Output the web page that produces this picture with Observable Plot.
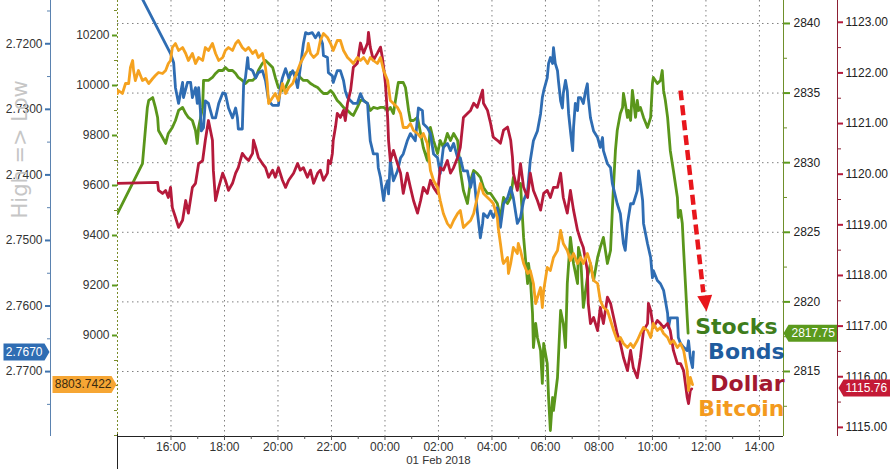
<!DOCTYPE html>
<html><head><meta charset="utf-8">
<script src="https://cdn.jsdelivr.net/npm/d3@7"></script>
<script src="https://cdn.jsdelivr.net/npm/@observablehq/plot@0.6"></script>
<style>
html,body{margin:0;padding:0;background:#fff;}
#chart{position:relative;width:890px;height:469px;overflow:hidden;background:#fff;}
#chart svg{position:absolute;left:0;top:0;}
</style></head><body><div id="chart"></div>
<script>
// time: minutes since 31 Jan 2018 14:00 (UTC)
const T0 = Date.UTC(2018, 0, 31, 14, 0);
const X_END_MIN = 1494;

// [minutes, 10y yield]
const bonds = [[0,2.7058],[119,2.7215],[126,2.7229],[130,2.7267],[137,2.7291],[146,2.7259],[148,2.7282],[157,2.7259],[164,2.7259],[168,2.7282],
[175,2.7267],[179,2.7291],[182,2.7267],[186,2.7302],[188,2.7333],[193,2.7328],[197,2.7287],[204,2.7291],[213,2.7313],[220,2.7313],
[227,2.7291],[236,2.7275],[242,2.7276],[249,2.7298],[258,2.7313],[265,2.7298],[269,2.7313],[271,2.7330],[280,2.7330],[283,2.7261],
[287,2.7252],[292,2.7221],[294,2.7237],[303,2.7241],[310,2.7252],[316,2.7244],[325,2.7241],[332,2.7256],[339,2.7287],[348,2.7294],
[361,2.7294],[366,2.7264],[370,2.7252],[377,2.7238],[384,2.7252],[393,2.7241],[399,2.7252],[404,2.7267],[410,2.7237],[417,2.7200],
[422,2.7183],[428,2.7185],[437,2.7183],[444,2.7191],[451,2.7183],[460,2.7200],[462,2.7218],[471,2.7221],[473,2.7244],[482,2.7249],
[484,2.7259],[493,2.7241],[500,2.7241],[507,2.7256],[511,2.7272],[516,2.7282],[523,2.7287],[529,2.7291],[538,2.7291],[545,2.7276],
[552,2.7287],[561,2.7291],[563,2.7313],[567,2.7348],[574,2.7368],[583,2.7368],[585,2.7389],[590,2.7404],[597,2.7439],[601,2.7419],
[606,2.7409],[608,2.7429],[612,2.7378],[619,2.7409],[628,2.7394],[635,2.7374],[641,2.7368],[650,2.7348],[657,2.7337],[668,2.7348],
[675,2.7298],[684,2.7302],[686,2.7322],[695,2.7328],[702,2.7337],[709,2.7368],[718,2.7374],[724,2.7398],[731,2.7358],[740,2.7352],
[747,2.7363],[754,2.7352],[763,2.7374],[769,2.7374],[776,2.7394],[785,2.7394],[792,2.7419],[799,2.7398],[807,2.7455],[814,2.7496],
[819,2.7474],[821,2.7459],[830,2.7465],[837,2.7455],[843,2.7465],[852,2.7450],[859,2.7480],[866,2.7444],[875,2.7435],[882,2.7419],
[888,2.7435],[897,2.7474],[904,2.7465],[911,2.7439],[920,2.7424],[926,2.7378],[933,2.7348],[942,2.7333],[949,2.7307],[953,2.7282],
[956,2.7272],[964,2.7252],[967,2.7230],[971,2.7221],[976,2.7230],[978,2.7206],[982,2.7230],[987,2.7241],[989,2.7256],[994,2.7287],
[998,2.7298],[1000,2.7276],[1005,2.7256],[1009,2.7272],[1012,2.7307],[1016,2.7333],[1021,2.7363],[1023,2.7328],[1027,2.7291],[1032,2.7302],
[1034,2.7282],[1039,2.7282],[1045,2.7291],[1050,2.7272],[1054,2.7261],[1056,2.7282],[1061,2.7313],[1068,2.7333],[1077,2.7343],[1083,2.7358],
[1088,2.7343],[1090,2.7363],[1099,2.7383],[1106,2.7389],[1110,2.7413],[1121,2.7444],[1128,2.7459],[1135,2.7505],[1139,2.7515],[1144,2.7474],
[1151,2.7444],[1157,2.7444],[1166,2.7424],[1169,2.7394],[1173,2.7413],[1178,2.7439],[1180,2.7474],[1189,2.7505],[1196,2.7526],[1200,2.7557],
[1202,2.7546],[1211,2.7561],[1218,2.7566],[1225,2.7576],[1234,2.7611],[1236,2.7633],[1240,2.7618],[1256,2.7618],[1258,2.7648],[1263,2.7657],
[1270,2.7663],[1278,2.7668],[1281,2.7653],[1285,2.7679],[1290,2.7694],[1292,2.7670]];

// [minutes, Bitcoin price]
const bitcoin = [[0,9968],[2,9980],[11,9968],[18,10008],[25,10008],[29,10072],[34,10100],[36,10060],[40,10020],[47,10060],
[56,10020],[63,10028],[70,10008],[79,10028],[85,10040],[92,10052],[101,10048],[108,10060],[114,10088],[119,10100],
[123,10152],[130,10168],[137,10140],[146,10152],[153,10128],[159,10100],[168,10128],[175,10088],[182,10112],[191,10100],
[197,10152],[204,10140],[213,10168],[220,10128],[227,10100],[236,10112],[242,10140],[249,10152],[258,10140],[265,10168],
[271,10180],[280,10152],[287,10140],[294,10152],[303,10128],[310,10140],[316,10112],[325,10128],[332,10072],[336,10008],
[339,9928],[348,9952],[354,9968],[361,9940],[370,10008],[377,9968],[384,9992],[393,10008],[404,10060],[410,10088],
[417,10112],[426,10140],[428,10168],[433,10128],[440,10112],[449,10128],[455,10180],[462,10208],[471,10192],[478,10168],
[484,10140],[493,10180],[500,10180],[507,10140],[516,10112],[523,10100],[529,10088],[538,10112],[545,10100],[552,10112],
[561,10088],[567,10112],[574,10100],[583,10088],[590,10112],[597,10060],[606,10020],[612,9940],[619,9928],[628,9912],
[635,9888],[641,9832],[650,9832],[657,9848],[664,9820],[673,9808],[680,9792],[686,9808],[695,9768],[702,9660],
[709,9620],[718,9592],[724,9540],[731,9488],[740,9448],[747,9432],[754,9460],[763,9488],[769,9500],[776,9432],
[785,9448],[792,9460],[799,9488],[807,9552],[814,9608],[821,9568],[830,9552],[837,9540],[843,9528],[852,9472],
[854,9432],[859,9368],[864,9300],[866,9288],[875,9312],[877,9248],[882,9288],[888,9352],[897,9328],[899,9368],
[904,9340],[911,9288],[920,9248],[926,9260],[933,9208],[938,9128],[942,9152],[949,9192],[953,9112],[956,9180],
[964,9272],[971,9260],[978,9312],[987,9340],[994,9420],[1000,9368],[1009,9340],[1016,9300],[1023,9328],[1032,9288],
[1039,9312],[1045,9288],[1054,9328],[1061,9288],[1068,9220],[1077,9208],[1083,9140],[1090,9112],[1099,9100],[1106,9060],
[1113,9020],[1121,8980],[1128,8992],[1135,8968],[1144,8952],[1151,8968],[1157,8952],[1166,8980],[1173,9008],[1180,9032],
[1189,9020],[1196,8992],[1202,9048],[1211,9020],[1218,9032],[1225,9008],[1234,8992],[1240,8968],[1247,8980],[1256,8952],
[1263,8968],[1270,8940],[1278,8860],[1281,8780],[1285,8832],[1290,8803.7422]];

// [minutes, S&P 500 futures]
const stocks = [[0,2826.35],[56,2829.94],[63,2832.53],[67,2833.97],[70,2834.47],[79,2834.68],[85,2833.97],[90,2833.25],[92,2832.31],[101,2831.81],
[108,2831.38],[114,2832.10],[123,2832.53],[130,2833.03],[137,2833.75],[146,2833.97],[153,2833.53],[159,2833.25],[168,2833.03],[175,2832.31],
[179,2831.38],[182,2832.53],[191,2833.97],[193,2835.91],[197,2835.91],[204,2835.91],[213,2836.12],[220,2836.41],[227,2836.62],[236,2836.62],
[242,2836.84],[249,2836.62],[258,2836.62],[265,2836.41],[271,2836.12],[280,2835.91],[287,2835.69],[294,2835.91],[303,2835.91],[310,2836.12],
[316,2836.62],[325,2837.13],[332,2837.34],[339,2837.13],[348,2836.84],[354,2836.12],[361,2835.40],[370,2835.19],[377,2835.40],[384,2835.91],
[388,2836.48],[404,2836.41],[410,2836.12],[417,2835.91],[426,2835.91],[433,2835.69],[440,2835.55],[449,2835.40],[455,2835.19],[462,2834.97],
[471,2834.97],[478,2835.19],[484,2834.97],[493,2834.47],[500,2834.25],[507,2833.97],[516,2833.75],[523,2833.53],[529,2833.39],[538,2833.97],
[545,2834.47],[552,2834.47],[561,2834.25],[567,2833.75],[574,2833.97],[583,2833.89],[590,2833.97],[597,2833.97],[606,2833.75],[612,2833.97],
[619,2833.53],[628,2835.40],[630,2835.76],[641,2835.76],[646,2835.40],[650,2834.47],[653,2833.75],[657,2833.03],[664,2833.03],[673,2833.25],
[680,2832.10],[686,2831.09],[695,2830.16],[702,2832.53],[709,2831.59],[718,2830.66],[724,2831.59],[731,2831.09],[740,2832.10],[747,2831.59],
[754,2832.10],[763,2831.59],[769,2829.44],[776,2828.00],[785,2827.07],[792,2828.72],[799,2829.44],[807,2829.22],[814,2828.94],[821,2828.22],
[830,2827.79],[837,2827.79],[843,2827.50],[852,2827.07],[859,2826.06],[866,2827.50],[875,2827.07],[882,2827.50],[888,2828.94],[897,2828.22],
[904,2828.51],[911,2824.63],[920,2821.32],[922,2822.76],[926,2821.75],[931,2819.17],[933,2816.72],[938,2818.45],[942,2817.44],[949,2816.51],
[953,2814.14],[956,2817.01],[964,2815.57],[967,2813.13],[971,2810.76],[976,2813.13],[978,2812.20],[987,2814.57],[994,2819.38],[1000,2818.45],
[1005,2816.72],[1009,2821.32],[1016,2824.63],[1023,2822.76],[1032,2821.32],[1034,2823.91],[1039,2823.19],[1045,2819.60],[1054,2821.75],[1061,2822.76],
[1068,2821.54],[1077,2823.19],[1083,2823.91],[1090,2824.63],[1099,2822.76],[1106,2823.69],[1110,2826.57],[1113,2828.51],[1117,2830.88],[1121,2832.31],
[1128,2833.53],[1133,2833.97],[1135,2834.97],[1139,2834.25],[1144,2833.25],[1146,2833.75],[1151,2833.03],[1155,2835.19],[1157,2834.68],[1162,2833.25],
[1166,2834.47],[1169,2833.75],[1173,2833.97],[1180,2833.25],[1189,2832.53],[1196,2833.25],[1200,2835.69],[1202,2836.12],[1211,2835.69],[1218,2835.91],
[1222,2836.62],[1225,2835.19],[1229,2834.47],[1234,2833.25],[1240,2830.88],[1247,2829.44],[1256,2827.50],[1258,2826.06],[1263,2826.57],[1267,2825.63],
[1270,2823.69],[1274,2821.32],[1278,2818.88],[1280,2817.75]];

// [minutes, Dollar index]
const dollar = [[0,1119.82],[90,1119.84],[92,1119.68],[101,1119.62],[108,1119.68],[114,1119.54],[119,1119.74],[123,1119.34],[130,1119.15],[137,1118.95],
[146,1119.09],[153,1119.48],[159,1119.23],[168,1119.74],[175,1119.82],[182,1120.21],[191,1120.27],[197,1120.67],[204,1121.06],[213,1120.67],
[215,1120.08],[220,1119.48],[227,1119.74],[236,1120.02],[242,1119.88],[249,1119.68],[258,1119.82],[265,1120.02],[271,1120.13],[280,1120.41],
[287,1120.33],[294,1120.27],[303,1120.41],[305,1120.67],[310,1120.53],[316,1120.33],[325,1120.21],[332,1120.13],[339,1119.94],[348,1120.08],
[354,1119.94],[361,1120.13],[370,1119.88],[377,1119.74],[384,1119.88],[395,1120.02],[404,1120.21],[410,1120.08],[417,1120.13],[426,1119.94],
[433,1120.08],[440,1119.82],[449,1120.02],[455,1120.08],[462,1119.88],[471,1120.02],[473,1120.27],[478,1120.21],[482,1120.41],[484,1120.67],
[489,1120.93],[493,1121.20],[500,1121.12],[507,1121.26],[511,1121.06],[516,1121.40],[523,1121.66],[529,1122.11],[538,1122.19],[545,1122.59],
[552,1122.39],[561,1122.59],[563,1122.80],[567,1122.51],[574,1122.25],[583,1122.39],[590,1122.51],[594,1122.31],[597,1122.11],[601,1121.79],
[606,1121.12],[608,1120.67],[612,1120.27],[619,1120.47],[628,1120.21],[635,1120.02],[641,1119.62],[650,1120.02],[657,1119.74],[664,1119.48],
[673,1119.23],[680,1119.48],[686,1119.74],[695,1119.62],[702,1119.88],[709,1119.74],[718,1119.62],[724,1120.13],[731,1120.08],[740,1120.27],
[747,1120.02],[754,1120.13],[763,1120.33],[769,1120.53],[776,1121.12],[785,1121.20],[792,1121.26],[799,1121.40],[807,1121.32],[814,1121.52],
[819,1121.66],[821,1121.40],[830,1121.26],[837,1121.00],[843,1120.73],[852,1120.67],[859,1120.61],[866,1120.87],[875,1120.93],[882,1120.67],
[886,1120.33],[888,1120.02],[897,1119.68],[904,1120.21],[911,1119.74],[920,1119.54],[926,1120.02],[933,1119.68],[942,1119.48],[949,1119.29],
[956,1119.62],[964,1119.68],[971,1119.54],[978,1119.74],[987,1119.74],[994,1120.02],[1000,1119.54],[1009,1119.23],[1016,1119.68],[1023,1119.29],
[1032,1118.89],[1039,1118.69],[1045,1118.55],[1054,1118.10],[1056,1117.45],[1061,1117.05],[1068,1117.17],[1077,1116.91],[1083,1117.37],[1090,1117.05],
[1099,1117.57],[1106,1117.45],[1113,1117.17],[1121,1116.85],[1128,1116.66],[1135,1116.38],[1144,1116.12],[1151,1116.52],[1157,1116.18],[1166,1115.98],
[1173,1116.38],[1180,1116.91],[1189,1117.05],[1191,1117.45],[1196,1117.31],[1202,1116.97],[1211,1117.11],[1218,1117.05],[1225,1116.97],[1234,1117.05],
[1240,1116.91],[1247,1116.52],[1256,1116.26],[1263,1116.26],[1270,1116.12],[1278,1115.59],[1281,1115.47],[1285,1115.73],[1288,1115.76]];

// axis ticks
const timeTicks = ["2018-01-31T16:00Z","2018-01-31T18:00Z","2018-01-31T20:00Z","2018-01-31T22:00Z","2018-02-01T00:00Z","2018-02-01T02:00Z",
  "2018-02-01T04:00Z","2018-02-01T06:00Z","2018-02-01T08:00Z","2018-02-01T10:00Z","2018-02-01T12:00Z","2018-02-01T14:00Z"];
const dateLabel = [{time: "2018-02-01T02:00Z", text: "01 Feb 2018"}];
const bondTicks = [2.72, 2.73, 2.74, 2.75, 2.76, 2.77];
const bondMinor = [2.715, 2.725, 2.735, 2.745, 2.755, 2.765, 2.775];
const btcTicks = [9000, 9200, 9400, 9600, 9800, 10000, 10200];
const btcMinor = [8600, 8700, 8800, 8900, 9100, 9300, 9500, 9700, 9900, 10100, 10300];
const stockTicks = [2815, 2820, 2825, 2830, 2835, 2840];
const stockMinor = [2812.5, 2817.5, 2822.5, 2827.5, 2832.5, 2837.5];
const dollarTicks = [1115, 1116, 1117, 1118, 1119, 1120, 1121, 1122, 1123];
const dollarMinor = [1115.5, 1116.5, 1117.5, 1118.5, 1119.5, 1120.5, 1121.5, 1122.5];

const seriesNames = ["Stocks", "Bonds", "Dollar", "Bitcoin"];
const labelLevels = [2818.2, 2816.4, 2814.1, 2812.3]; // on the stocks axis
const arrowLine = [{t1: 1263, v1: 2835.19, t2: 1314, v2: 2820.7}];
const arrowTip = [{t: 1319, v: 2819.96}];

// ---- build ----
const at = m => new Date(T0 + m * 60000);
const rows = a => a.map(([m, v]) => ({time: at(m), value: v}));
const C = {bonds: "#2f6db3", btc: "#f5a21f", stocks: "#5a961b", dollar: "#b51a3b"};

const common = {
  width: 890, height: 469, marginLeft: 117, marginRight: 107, marginTop: 0, marginBottom: 33,
  style: {background: "transparent", fontFamily: "'Liberation Sans', Arial, sans-serif", fontSize: "12px", color: "#222"}
};
const X = {type: "utc", domain: [at(0), at(X_END_MIN)]};
const dom = {
  stocks: [2810.33, 2841.65],
  btc: [8596, 10340],
  bonds: [2.7799, 2.7134],
  dollar: [1114.82, 1123.43]
};
const grid = {stroke: "#808080", strokeOpacity: 1, strokeDasharray: "1.5,3.5"};
const lineOpt = {x: "time", y: "value", strokeWidth: 2.8, clip: true, strokeLinejoin: "round"};

const tag = (dir, w, h = 17, p = 5) => ({
  draw(ctx) {
    ctx.moveTo(0, 0);
    ctx.lineTo(dir * p, -h / 2);
    ctx.lineTo(dir * w, -h / 2);
    ctx.lineTo(dir * w, h / 2);
    ctx.lineTo(dir * p, h / 2);
    ctx.closePath();
  }
});
const arrowHead = {draw(ctx) { ctx.moveTo(0, 9); ctx.lineTo(-7.5, -7); ctx.lineTo(7.5, -7); ctx.closePath(); }};

const last = a => [a[a.length - 1]];
const chart = document.getElementById("chart");

// base: grid, time axis, stocks
chart.append(Plot.plot({
  ...common, x: X, y: {domain: dom.stocks},
  marks: [
    Plot.gridX(timeTicks.map(d => new Date(d)), grid),
    Plot.gridY(stockTicks, grid),
    Plot.ruleY([dom.stocks[0]], {stroke: "#222"}),
    Plot.ruleX([at(0)], {insetTop: 400, dy: 33, stroke: "#222"}),
    Plot.axisX(timeTicks.map(d => new Date(d)), {tickSize: 4, tickPadding: 2, tickFormat: d3.utcFormat("%H:%M"), label: null, stroke: "#555", fill: "#333"}),
    Plot.axisX(d3.utcHour.range(at(60), at(X_END_MIN)).filter(d => d.getUTCHours() % 2 === 1), {tickSize: 3, tickFormat: () => "", label: null, stroke: "#555"}),
    Plot.text(dateLabel, {x: d => new Date(d.time), text: "text", frameAnchor: "bottom", dy: 27, fill: "#333", fontSize: 11.5}),
    Plot.ruleX([at(X_END_MIN)], {stroke: "#6f8f2a"}),
    Plot.axisY(stockTicks, {anchor: "right", tickSize: 6, tickPadding: 4, tickFormat: d3.format("d"), stroke: "#5d9b1e", strokeWidth: 2, fill: "#222", label: null}),
    Plot.axisY(stockMinor, {anchor: "right", tickSize: 3, tickFormat: () => "", stroke: "#6f8f2a", label: null}),
    Plot.line(rows(stocks), {...lineOpt, stroke: C.stocks}),
    Plot.dot(last(stocks), {y: d => d[1], frameAnchor: "right", symbol: tag(1, 54), fill: "#5b9a1d"}),
    Plot.text(last(stocks), {y: d => d[1], text: d => d[1].toFixed(2), frameAnchor: "right", dx: 8, textAnchor: "start", fill: "white"})
  ]
}));

// bonds (inverted, far-left axis)
chart.append(Plot.plot({
  ...common, x: {...X, axis: null}, y: {domain: dom.bonds},
  marks: [
    Plot.ruleX([at(0)], {dx: -67, stroke: "#5a82b0"}),
    Plot.axisY(bondTicks, {anchor: "left", dx: -67, tickSize: 5, tickPadding: 3, tickFormat: d3.format(".4f"), stroke: "#3f73ad", strokeWidth: 2, fill: "#333", label: null}),
    Plot.axisY(bondMinor, {anchor: "left", dx: -67, tickSize: 3, tickFormat: () => "", stroke: "#5a82b0", label: null}),
    Plot.text(["High => Low"], {frameAnchor: "left", dx: -97, rotate: -90, fontSize: 21, fontFamily: "'DejaVu Sans', sans-serif", fill: "#c6c6c6"}),
    Plot.line(rows(bonds), {...lineOpt, stroke: C.bonds}),
    Plot.dot(last(bonds), {y: d => d[1], frameAnchor: "left", dx: -68, symbol: tag(-1, 46), fill: "#2f6db3"}),
    Plot.text(last(bonds), {y: d => d[1], text: d => d[1].toFixed(4), frameAnchor: "left", dx: -75, textAnchor: "end", fill: "white"})
  ]
}));

// dollar (far-right axis)
chart.append(Plot.plot({
  ...common, x: {...X, axis: null}, y: {domain: dom.dollar},
  marks: [
    Plot.ruleX([at(X_END_MIN)], {dx: 54, stroke: "#8c1f33"}),
    Plot.axisY(dollarTicks, {anchor: "right", dx: 54, tickSize: 5, tickPadding: 3, tickFormat: d3.format(".2f"), stroke: "#b51a3b", strokeWidth: 2, fill: "#222", label: null}),
    Plot.axisY(dollarMinor, {anchor: "right", dx: 54, tickSize: 3, tickFormat: () => "", stroke: "#8c1f33", label: null}),
    Plot.line(rows(dollar), {...lineOpt, stroke: C.dollar}),
    Plot.dot(last(dollar), {y: d => d[1], frameAnchor: "right", dx: 55, dy: -1, symbol: tag(1, 53), fill: "#c41a36"}),
    Plot.text(last(dollar), {y: d => d[1], text: d => d[1].toFixed(2), frameAnchor: "right", dx: 62, dy: -1, textAnchor: "start", fill: "white"})
  ]
}));

// bitcoin (inner-left axis)
chart.append(Plot.plot({
  ...common, x: {...X, axis: null}, y: {domain: dom.btc},
  marks: [
    Plot.ruleX([at(0)], {stroke: "#7a8c2a", strokeDasharray: "2,2"}),
    Plot.axisY(btcTicks, {anchor: "left", tickSize: 5, tickPadding: 3, tickFormat: d3.format("d"), stroke: "#5d9b1e", strokeWidth: 2, fill: "#333", label: null}),
    Plot.axisY(btcMinor, {anchor: "left", tickSize: 3, tickFormat: () => "", stroke: "#7a8c2a", label: null}),
    Plot.line(rows(bitcoin), {...lineOpt, stroke: C.btc}),
    Plot.dot(last(bitcoin), {y: d => d[1], frameAnchor: "left", dx: -1, symbol: tag(-1, 64), fill: "#f6a634"}),
    Plot.text(last(bitcoin), {y: d => d[1], text: d => d[1].toFixed(4), frameAnchor: "left", dx: -6, textAnchor: "end", fill: "#3a2a10"})
  ]
}));

// annotations on stocks scale
const labelFont = {fontWeight: "bold", fontSize: 22, fontFamily: "'DejaVu Sans', sans-serif", frameAnchor: "right", textAnchor: "end"};
chart.append(Plot.plot({
  ...common, x: {...X, axis: null}, y: {domain: dom.stocks, axis: null},
  color: {domain: seriesNames, range: ["#3f7d1c", "#1f5c9e", "#a3182f", "#f39a1e"]},
  marks: [
    Plot.link(arrowLine, {x1: d => at(d.t1), y1: "v1", x2: d => at(d.t2), y2: "v2", stroke: "#e8161c", strokeWidth: 4.5, strokeDasharray: "10,5"}),
    Plot.dot(arrowTip, {x: d => at(d.t), y: "v", symbol: arrowHead, fill: "#e8161c", rotate: -6.5}),
    Plot.text(seriesNames.slice(0, 1), {y: (d, i) => labelLevels[i], text: d => d, fill: d => d, dx: -6, ...labelFont}),
    Plot.text(seriesNames.slice(1), {y: (d, i) => labelLevels[i + 1], text: d => d, fill: d => d, dx: 1, ...labelFont})
  ]
}));
</script></body></html>
